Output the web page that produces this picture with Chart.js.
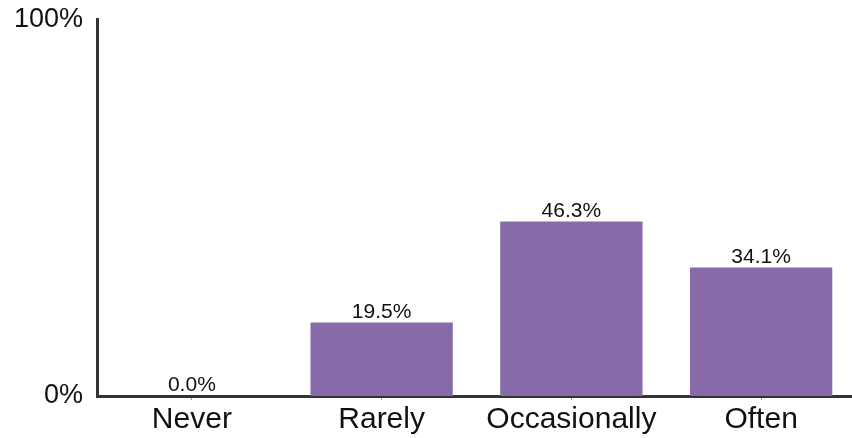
<!DOCTYPE html>
<html>
<head>
<meta charset="utf-8">
<script src="https://cdn.jsdelivr.net/npm/chart.js@4"></script>
<style>
  html, body { margin: 0; padding: 0; background: #fff; overflow: hidden; }
  #wrap { width: 856px; height: 441px; margin-top: -3px; }
</style>
</head>
<body>
<div id="wrap"><canvas id="myChart"></canvas></div>
<script>
const categories = ["Never", "Rarely", "Occasionally", "Often"];
const percents = [0.0, 19.5, 46.3, 34.1];
const yTicks = [0, 100];

const barColor = "#866ba8";
const fontFamily = "'Liberation Sans', Arial, sans-serif";

// draws the value labels above each bar
const valueLabels = {
    id: 'valueLabels',
    afterDatasetsDraw(chart) {
        const ctx = chart.ctx;
        const meta = chart.getDatasetMeta(0);
        ctx.save();
        ctx.font = "21px " + fontFamily;
        ctx.fillStyle = "#111";
        ctx.textAlign = "center";
        ctx.textBaseline = "alphabetic";
        meta.data.forEach((bar, i) => {
            ctx.fillText(percents[i].toFixed(1) + "%", bar.x, bar.y - 5);
        });
        ctx.restore();
    }
};

new Chart("myChart", {
    type: "bar",
    data: {
        labels: categories,
        datasets: [{
            data: percents,
            backgroundColor: barColor,
            barPercentage: 0.75,
            categoryPercentage: 1.0
        }]
    },
    options: {
        responsive: true,
        maintainAspectRatio: false,
        animation: false,
        layout: { padding: { top: 0, right: 0, bottom: 0, left: 0 } },
        plugins: {
            legend: { display: false },
            tooltip: { enabled: false }
        },
        scales: {
            x: {
                grid: {
                    display: true,
                    drawOnChartArea: false,
                    drawTicks: true,
                    tickLength: 4,
                    offset: false,
                    color: "#999"
                },
                border: { display: true, color: "#333", width: 3 },
                ticks: {
                    color: "#111",
                    padding: 2,
                    font: { size: 30, family: fontFamily }
                },
                afterFit(scale) { scale.height = 42; }
            },
            y: {
                min: yTicks[0],
                max: yTicks[yTicks.length - 1],
                afterBuildTicks(scale) {
                    scale.ticks = yTicks.map(v => ({ value: v }));
                },
                grid: { display: false },
                border: { display: true, color: "#333", width: 3 },
                ticks: {
                    color: "#111",
                    padding: 6,
                    font: { size: 27, family: fontFamily },
                    callback: v => v + "%"
                },
                afterFit(scale) { scale.width = 97; }
            }
        }
    },
    plugins: [valueLabels]
});
</script>
</body>
</html>
